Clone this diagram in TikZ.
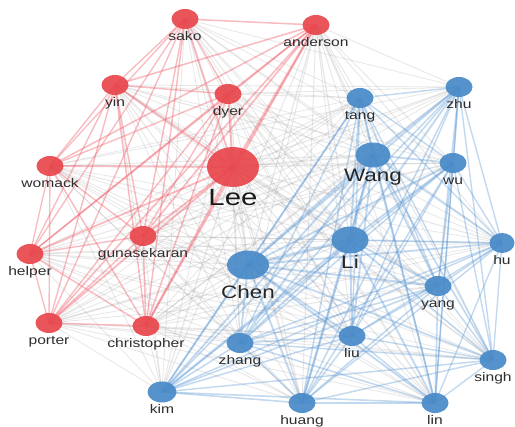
\documentclass[tikz,border=0pt]{standalone}
\usepackage{fontspec}
\setmainfont{Liberation Sans}[FakeStretch=1.25]
\usetikzlibrary{shapes.geometric}
\pgfdeclarelayer{bg}
\pgfsetlayers{bg,main}
\definecolor{rnode}{RGB}{232,70,76}
\definecolor{bnode}{RGB}{72,138,200}
\definecolor{redge}{RGB}{238,95,108}
\definecolor{bedge}{RGB}{90,150,210}
\definecolor{gedge}{RGB}{160,160,160}
\definecolor{labc}{RGB}{45,45,45}
\newcommand\setw[2]{\expandafter\def\csname nw#1\endcsname{#2}}
\newcommand\getw[1]{\csname nw#1\endcsname}
\setw{sako}{1}\setw{anderson}{1.5}\setw{yin}{1.1}\setw{dyer}{1.1}\setw{womack}{1}
\setw{Lee}{2.4}\setw{helper}{1}\setw{gunasekaran}{1.2}\setw{porter}{1.1}\setw{christopher}{1.3}
\setw{tang}{1.1}\setw{zhu}{1.2}\setw{Wang}{2}\setw{wu}{1.1}\setw{Li}{2.2}\setw{hu}{1}
\setw{yang}{1.3}\setw{Chen}{2.2}\setw{liu}{1.1}\setw{singh}{1}\setw{zhang}{1.2}
\setw{kim}{1.3}\setw{huang}{1.3}\setw{lin}{1.2}
\def\redlist{sako,anderson,yin,dyer,womack,Lee,helper,gunasekaran,porter,christopher}
\def\bluelist{tang,zhu,Wang,wu,Li,hu,yang,Chen,liu,singh,zhang,kim,huang,lin}
\tikzset{
  nd/.style={ellipse, inner sep=0pt, minimum width=27pt, minimum height=20pt, draw=none, fill opacity=0.92},
  rn/.style={nd, fill=rnode},
  bn/.style={nd, fill=bnode},
  labst/.style={inner sep=0pt, text=labc, label distance=1.5pt, text height=9.5pt, text depth=3pt,
    font=\fontsize{12.5}{14}\selectfont},
  biglab/.style={inner sep=0pt, text=black!85, label distance=1pt, text height=13.5pt, text depth=4pt,
    font=\fontsize{18}{20}\selectfont},
  hugelab/.style={inner sep=0pt, text=black!90, label distance=1pt, text height=17.5pt, text depth=5pt,
    font=\fontsize{23.5}{26}\selectfont},
}
\begin{document}
\begin{tikzpicture}[x=1pt,y=-1pt]
\useasboundingbox (0,0) rectangle (515,427);
% red cluster
\node[rn, label={[labst]below:sako}] (sako) at (185,19) {};
\node[rn, label={[labst]below:anderson}] (anderson) at (316,25) {};
\node[rn, label={[labst]below:yin}] (yin) at (115,85) {};
\node[rn, label={[labst]below:dyer}] (dyer) at (228,94) {};
\node[rn, label={[labst]below:womack}] (womack) at (50,166) {};
\node[rn, minimum width=52pt, minimum height=40pt, label={[hugelab]below:Lee}] (Lee) at (233,167) {};
\node[rn, label={[labst]below:helper}] (helper) at (30,254) {};
\node[rn, label={[labst]below:gunasekaran}] (gunasekaran) at (143,236) {};
\node[rn, label={[labst]below:porter}] (porter) at (49,323) {};
\node[rn, label={[labst]below:christopher}] (christopher) at (146,326) {};
% blue cluster
\node[bn, label={[labst]below:tang}] (tang) at (360,98) {};
\node[bn, label={[labst]below:zhu}] (zhu) at (459,87) {};
\node[bn, minimum width=35pt, minimum height=25pt, label={[biglab, label distance=0.5pt]below:Wang}] (Wang) at (373,155) {};
\node[bn, label={[labst]below:wu}] (wu) at (453,163) {};
\node[bn, minimum width=37pt, minimum height=27pt, label={[biglab]below:Li}] (Li) at (350,240) {};
\node[bn, minimum width=25pt, label={[labst]below:hu}] (hu) at (502,243) {};
\node[bn, label={[labst]below:yang}] (yang) at (438,286) {};
\node[bn, minimum width=42pt, minimum height=29pt, label={[biglab, label distance=5pt]below:Chen}] (Chen) at (248,265) {};
\node[bn, label={[labst]below:liu}] (liu) at (352,336) {};
\node[bn, label={[labst]below:singh}] (singh) at (493,360) {};
\node[bn, label={[labst]below:zhang}] (zhang) at (240,343) {};
\node[bn, minimum width=29pt, minimum height=21pt, label={[labst]below:kim}] (kim) at (162,392) {};
\node[bn, label={[labst]below:huang}] (huang) at (302,403) {};
\node[bn, label={[labst]below:lin}] (lin) at (435,403) {};
\begin{pgfonlayer}{bg}
% cross-cluster links
\foreach \a in \redlist {
  \foreach \b in \bluelist {
    \pgfmathsetmacro\lw{0.22*\getw{\a}*\getw{\b}+0.6}
    \draw[gedge, line width=\lw pt, opacity=0.24] (\a.center) -- (\b.center);
  }
}
% red links
\foreach \a [count=\i] in \redlist {
  \foreach \b [count=\j] in \redlist {
    \ifnum\j>\i
      \pgfmathsetmacro\lw{0.35*\getw{\a}*\getw{\b}+1.0}
      \draw[redge, line width=\lw pt, opacity=0.42] (\a.center) -- (\b.center);
    \fi
  }
}
% blue links
\foreach \a [count=\i] in \bluelist {
  \foreach \b [count=\j] in \bluelist {
    \ifnum\j>\i
      \pgfmathsetmacro\lw{0.35*\getw{\a}*\getw{\b}+1.0}
      \draw[bedge, line width=\lw pt, opacity=0.36] (\a.center) -- (\b.center);
    \fi
  }
}
\end{pgfonlayer}
\end{tikzpicture}
\end{document}
